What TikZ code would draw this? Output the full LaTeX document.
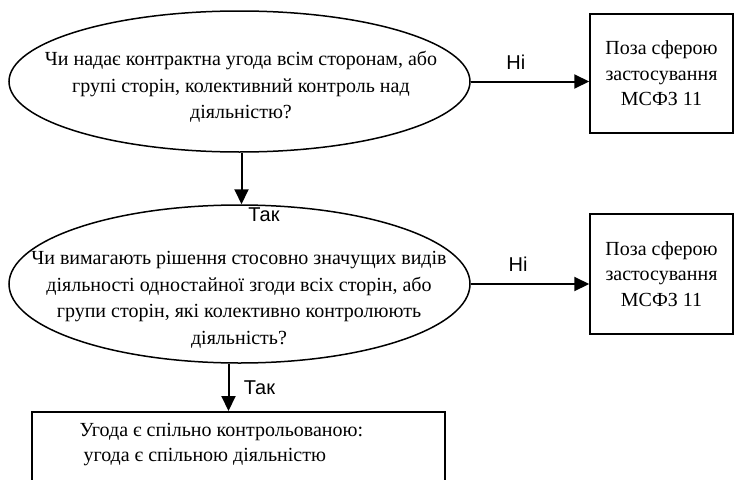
\documentclass[tikz,border=0pt]{standalone}
\usepackage{fontspec}
\setmainfont{Liberation Serif}
\newfontfamily\arialfont{Liberation Sans}
\usetikzlibrary{arrows.meta,positioning,shapes.geometric}

\begin{document}
\begin{tikzpicture}[x=1pt, y=-1pt,
  question/.style={ellipse, draw, line width=1.5pt, inner sep=0pt},
  outbox/.style={rectangle, draw, line width=1.5pt, minimum width=143pt, minimum height=119pt, align=center, font=\fontsize{20}{25.5}\selectfont},
  qtext/.style={align=center, font=\fontsize{20}{26.5}\selectfont},
  arrow/.style={-{Triangle[length=15pt, width=14pt]}, line width=2pt},
  answer/.style={font=\arialfont\fontsize{20}{22}\selectfont}
]
  \useasboundingbox (0,0) rectangle (735,479);
  \clip (0,0) rectangle (735,479);

  % first question
  \node[question, minimum width=461pt, minimum height=141pt] (q1) at (239.5,81.5) {};
  \node[qtext] (q1txt) at (241,87) {Чи надає контрактна угода всім сторонам, або\\групі сторін, колективний контроль над\\діяльністю?};
  \node[outbox] (out1) at (661.5,73.5) {Поза сферою\\застосування\\МСФЗ 11};

  % second question
  \node[question, minimum width=461pt, minimum height=158pt] (q2) at (239.5,284) {};
  \node[qtext] (q2txt) at (239,300) {Чи вимагають рішення стосовно значущих видів\\діяльності одностайної згоди всіх сторін, або\\групи сторін, які колективно контролюють\\діяльність?};
  \node[outbox, minimum height=120pt] (out2) at (661.5,274) {Поза сферою\\застосування\\МСФЗ 11};

  % result, cut off by the page
  \node[rectangle, draw, line width=1.5pt, minimum width=413pt, minimum height=120pt, anchor=north] (res) at (238.5,411) {};
  \node[align=left, anchor=west, font=\fontsize{20}{25}\selectfont] (restxt) at (76,445) {Угода є спільно контрольованою:\\\hspace{4pt}угода є спільною діяльністю};

  \draw[arrow] (q1.east) -- (q1.east -| out1.west) node[answer, pos=0.38, above=8pt] (no1) {Ні};
  \draw[arrow] (q2.east) -- (q2.east -| out2.west) node[answer, pos=0.4, above=8pt] (no2) {Ні};
  \draw[arrow] ([xshift=2pt]q1.south) -- ([xshift=2pt]q2.north);
  \node[answer] (yes1) at (264,215) {Так};
  \draw[arrow] ([xshift=-11pt]q2.south) -- ([xshift=-10pt]res.north) node[answer, midway, right=11pt] (yes2) {Так};
\end{tikzpicture}
\end{document}
